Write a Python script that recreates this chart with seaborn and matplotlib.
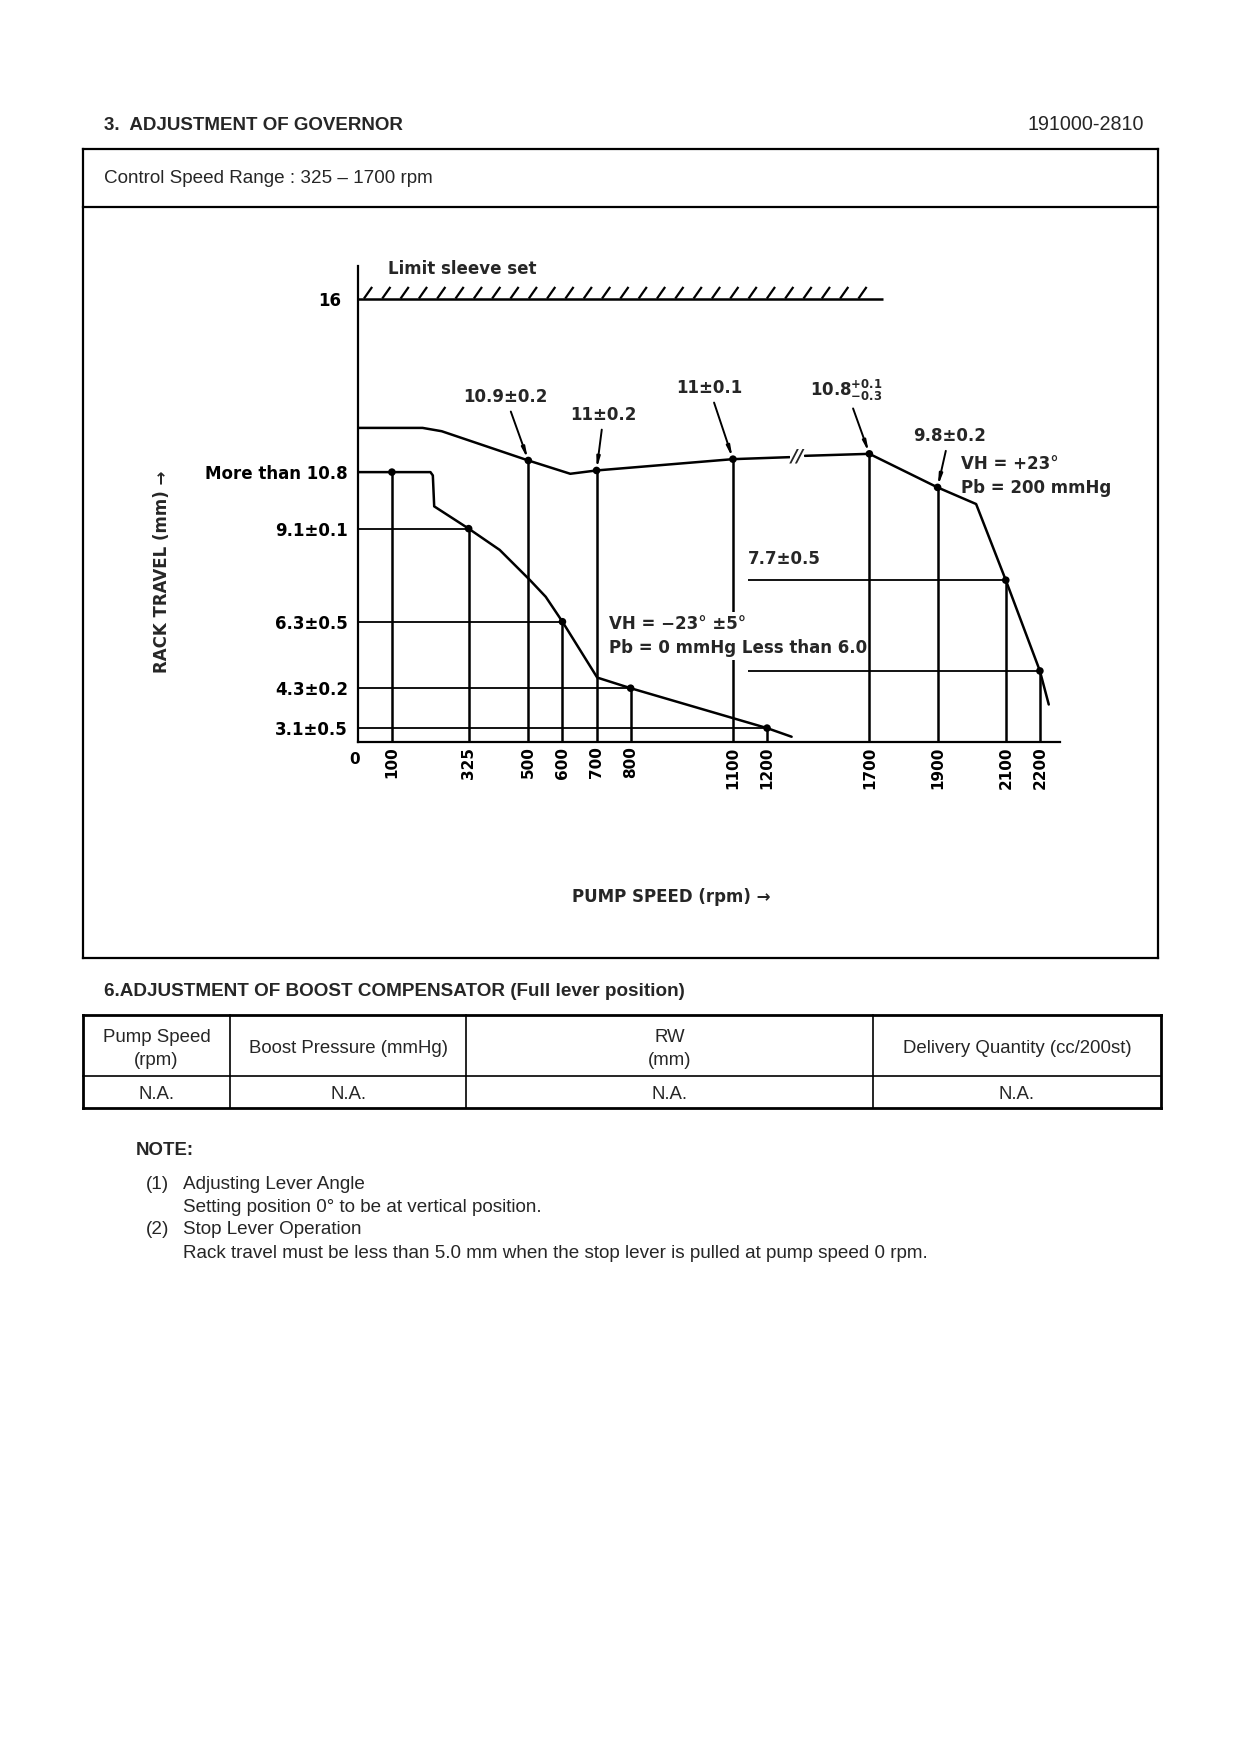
import numpy as np
import pandas as pd
import matplotlib
matplotlib.use("Agg")
import matplotlib.pyplot as plt
from matplotlib.lines import Line2D
from matplotlib.collections import LineCollection
from matplotlib.transforms import ScaledTranslation
import seaborn as sns

# ---------------- data ----------------
# full-load curve (VH = +23°, Pb = 200 mmHg), split at the axis break
full_rpm_a = [0, 190, 246, 500, 623, 700, 1100, 1310]
full_mm_a = [12.13, 12.13, 12.03, 11.15, 10.75, 10.85, 11.19, 11.25]
full_rpm_b = [1385, 1700, 1900, 2013, 2100, 2200, 2226]
full_mm_b = [11.29, 11.35, 10.34, 9.84, 7.55, 4.82, 3.81]
# idle curve (VH = -23°, Pb = 0 mmHg)
idle_rpm = [0, 213, 220, 224, 325, 416, 505, 551, 600, 702, 800, 1200, 1320]
idle_mm = [10.8, 10.8, 10.7, 9.77, 9.1, 8.46, 7.55, 7.05, 6.3, 4.62, 4.3, 3.1, 2.84]
# measuring points
full_pt_rpm = [500, 700, 1100, 1700, 1900, 2100, 2200]
full_pt_mm = [11.15, 10.85, 11.19, 11.35, 10.34, 7.55, 4.82]
idle_pt_rpm = [100, 325, 600, 800, 1200]
idle_pt_mm = [10.8, 9.1, 6.3, 4.3, 3.1]
# drop line hidden behind the idle-condition labels
masked_drop_rpm = [1100]
# axis ticks
y_ticks = [16, 10.8, 9.1, 6.3, 4.3, 3.1]
y_tick_labels = ["16", "More than 10.8", "9.1±0.1", "6.3±0.5", "4.3±0.2", "3.1±0.5"]
x_ticks = [0, 100, 325, 500, 600, 700, 800, 1100, 1200, 1700, 1900, 2100, 2200]
x_tick_labels = [str(v) for v in x_ticks]
# right-hand spec lines (7.7 and "less than 6.0")
spec_rpm_start = 1144
spec_mm = [7.55, 4.82]
spec_rpm_end = [2100, 2200]
# limit sleeve
limit_mm = 16
limit_rpm_end = 1741
break_rpm = 1347
break_mm = 11.27
# callouts: text, text rpm, text mm, target rpm, target mm
callout_text = ["10.9±0.2", "11±0.2", "11±0.1", r"10.8$^{+0.1}_{-0.3}$", "9.8±0.2"]
callout_x = [433, 721, 1030, 1588, 1934]
callout_y = [13.07, 12.53, 13.34, 13.27, 11.89]
callout_tx = [500, 700, 1100, 1700, 1900]
callout_ty = [11.15, 10.85, 11.19, 11.35, 10.34]
# free labels (mask flag: hides lines behind the text)
note_text = ["VH = +23°", "Pb = 200 mmHg", "7.7±0.5", "VH = −23° ±5°",
             "Pb = 0 mmHg Less than 6.0", "Limit sleeve set"]
note_x = [1970, 1970, 1144, 738, 738, 88]
note_y = [11.05, 10.31, 8.19, 6.24, 5.5, 16.91]
note_mask = [False, False, False, True, True, False]

# boost compensator table
table_headers = ["Pump Speed\n(rpm)", "Boost Pressure (mmHg)", "RW\n(mm)", "Delivery Quantity (cc/200st)"]
table_values = ["N.A.", "N.A.", "N.A.", "N.A."]

# ---------------- style ----------------
sns.set_theme(style="white")
plt.rcParams["font.family"] = ["DejaVu Sans"]
plt.rcParams["mathtext.fontset"] = "dejavusans"
plt.rcParams["mathtext.default"] = "bf"

W, H = 1240, 1754
fig = plt.figure(figsize=(12.4, 17.54), dpi=100)
fig.patch.set_facecolor("white")


def fx(px):
    return px / W


def fy(py):
    return 1 - py / H


def fline(xs, ys, lw):
    fig.add_artist(Line2D([fx(v) for v in xs], [fy(v) for v in ys], color="black",
                          lw=lw, solid_capstyle="projecting"))


DOC = ["Liberation Sans", "DejaVu Sans"]
CF = 12  # chart font size

# header
fig.text(fx(104), fy(125), "3.  ADJUSTMENT OF GOVERNOR", family=DOC, fontsize=13.5,
         fontweight="bold", va="center", ha="left")
fig.text(fx(1144), fy(125), "191000-2810", family=DOC, fontsize=14.2, va="center", ha="right")

# chart frame
L, R, T, B, D = 82.7, 1158.4, 148.7, 958.2, 206.9
fline([L, R], [T, T], 1.6)
fline([L, R], [B, B], 1.6)
fline([L, L], [T, B], 1.6)
fline([R, R], [T, B], 1.6)
fline([L, R], [D, D], 1.6)
fig.text(fx(104), fy(178.9), "Control Speed Range : 325 – 1700 rpm", family=DOC,
         fontsize=13.6, va="center", ha="left")

# ---------------- governor chart ----------------
rpm_knots = [0, 1200, 1700, 2600]
pos_knots = [0, 1200, 1500, 2400]


def fwd(r):
    return np.interp(r, rpm_knots, pos_knots)


def inv(p):
    return np.interp(p, pos_knots, rpm_knots)


ax = fig.add_axes([0.28855, 0.57674, 0.5663, 0.27161])
ax.set_facecolor("none")
ax.set_xscale("function", functions=(fwd, inv))
ax.set_xlim(0, 2259)
ax.set_ylim(2.67, 17.0)
for s in ["top", "right"]:
    ax.spines[s].set_visible(False)
for s in ["left", "bottom"]:
    ax.spines[s].set_color("black")
    ax.spines[s].set_linewidth(1.6)

lw_curve = 1.8
sns.lineplot(x=full_rpm_a, y=full_mm_a, ax=ax, color="black", lw=lw_curve,
             sort=False, estimator=None)
sns.lineplot(x=full_rpm_b, y=full_mm_b, ax=ax, color="black", lw=lw_curve,
             sort=False, estimator=None)
sns.lineplot(x=idle_rpm, y=idle_mm, ax=ax, color="black", lw=lw_curve,
             sort=False, estimator=None)

# vertical drop lines from measuring points
ybot = ax.get_ylim()[0]
pt_rpm = full_pt_rpm + idle_pt_rpm
pt_mm = full_pt_mm + idle_pt_mm
top_r = [r for r in pt_rpm if r not in masked_drop_rpm]
top_m = [m for r, m in zip(pt_rpm, pt_mm) if r not in masked_drop_rpm]
low_r = [r for r in pt_rpm if r in masked_drop_rpm]
low_m = [m for r, m in zip(pt_rpm, pt_mm) if r in masked_drop_rpm]
ax.vlines(top_r, ybot, top_m, color="black", lw=1.8, zorder=8)
ax.vlines(low_r, ybot, low_m, color="black", lw=1.8, zorder=2)
# horizontal spec lines from the rack axis
ax.hlines(idle_pt_mm[1:], 0, idle_pt_rpm[1:], color="black", lw=1.3)
ax.hlines(spec_mm, spec_rpm_start, spec_rpm_end, color="black", lw=1.3)
# limit sleeve line with hatching
ax.hlines(limit_mm, 0, limit_rpm_end, color="black", lw=1.8)
p_end = fwd(limit_rpm_end)
starts = np.arange(18, p_end - 20, 53.7)
segs = [[(inv(p), limit_mm + 0.02), (inv(p + 24), limit_mm + 0.37)] for p in starts]
ax.add_collection(LineCollection(segs, colors="black", linewidths=1.6))

# measuring dots
sns.scatterplot(x=pt_rpm, y=pt_mm, ax=ax, color="black", s=30, edgecolor="none", zorder=9)

# axis break mark
ax.text(break_rpm, break_mm, "//", fontsize=13, fontweight="bold", ha="center", va="center",
        fontstyle="italic", bbox=dict(facecolor="white", edgecolor="none", pad=0.3), zorder=7)

# ticks
ax.set_xticks(x_ticks)
ax.set_xticklabels(x_tick_labels, rotation=90, fontsize=11, fontweight="bold")
ax.get_xticklabels()[0].set_rotation(0)
ax.set_yticks(y_ticks)
ax.set_yticklabels(y_tick_labels, fontsize=CF, fontweight="bold")
ax.tick_params(axis="x", length=0, pad=3, colors="black")
ax.tick_params(axis="y", length=0, pad=7, colors="black")
lbl16 = ax.get_yticklabels()[0]
lbl16.set_transform(lbl16.get_transform() + ScaledTranslation(-0.066, 0, fig.dpi_scale_trans))
lbl0 = ax.get_xticklabels()[0]
lbl0.set_transform(lbl0.get_transform() + ScaledTranslation(-0.03, -0.05, fig.dpi_scale_trans))
ax.set_xlabel("")
ax.set_ylabel("")

# callouts
for t, x, y, tx, ty in zip(callout_text, callout_x, callout_y, callout_tx, callout_ty):
    ax.annotate(t, xy=(tx, ty), xytext=(x, y), fontsize=CF, fontweight="bold",
                ha="center", va="center",
                arrowprops=dict(arrowstyle="-|>,head_length=0.5,head_width=0.08",
                                color="black", lw=1.4, shrinkA=2, shrinkB=1),
                annotation_clip=False)
for t, x, y, m in zip(note_text, note_x, note_y, note_mask):
    bb = dict(facecolor="white", edgecolor="none", pad=2.2) if m else None
    ax.text(x, y, t, fontsize=CF, fontweight="bold", ha="left", va="center",
            clip_on=False, bbox=bb, zorder=7)

fig.text(fx(162), fy(572), "RACK TRAVEL (mm) →", rotation=90, fontsize=CF,
         fontweight="bold", ha="center", va="center")
fig.text(fx(671), fy(897), "PUMP SPEED (rpm) →", fontsize=CF, fontweight="bold",
         ha="center", va="center")

# ---------------- boost compensator ----------------
fig.text(fx(104), fy(991.7), "6.ADJUSTMENT OF BOOST COMPENSATOR (Full lever position)",
         family=DOC, fontsize=13.6, fontweight="bold", va="center", ha="left")
tL, tR, tT, tM, tB = 82.7, 1160.6, 1015.2, 1075.6, 1108.0
col_x = [tL, 230.3, 466.2, 873.2, tR]
fline([tL, tR], [tT, tT], 2.0)
fline([tL, tR], [tB, tB], 2.0)
fline([tL, tL], [tT, tB], 2.0)
fline([tR, tR], [tT, tB], 2.0)
fline([tL, tR], [tM, tM], 1.2)
for cx in col_x[1:-1]:
    fline([cx, cx], [tT, tB], 1.2)
for i, (hd, val) in enumerate(zip(table_headers, table_values)):
    cx = (col_x[i] + col_x[i + 1]) / 2
    fig.text(fx(cx), fy((tT + tM) / 2 + 3.5), hd, family=DOC, fontsize=13.4, ha="center",
             va="center", linespacing=1.45, multialignment="center")
    fig.text(fx(cx), fy((tM + tB) / 2 + 2.5), val, family=DOC, fontsize=13.4, ha="center",
             va="center")

# ---------------- notes ----------------
fig.text(fx(135.3), fy(1150.5), "NOTE:", family=DOC, fontsize=13.4, fontweight="bold",
         va="center", ha="left")
note_lines = [("(1)", "Adjusting Lever Angle"),
              ("", "Setting position 0° to be at vertical position."),
              ("(2)", "Stop Lever Operation"),
              ("", "Rack travel must be less than 5.0 mm when the stop lever is pulled at pump speed 0 rpm.")]
for (num, txt), yy in zip(note_lines, [1184.1, 1207.5, 1229.9, 1253.4]):
    if num:
        fig.text(fx(145.4), fy(yy), num, family=DOC, fontsize=13.6, va="center", ha="left")
    fig.text(fx(183.4), fy(yy), txt, family=DOC, fontsize=13.6, va="center", ha="left")

fig.savefig("out.png", dpi=100, facecolor="white")
